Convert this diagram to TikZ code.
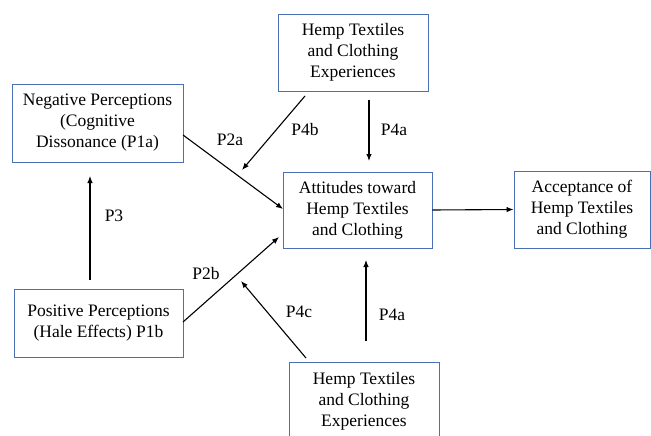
\documentclass[tikz,border=0pt]{standalone}
\usepackage{fontspec}
\usetikzlibrary{arrows.meta}
\newcommand\tmsfont{\fontspec{Liberation Serif}\fontsize{17.5}{21}\selectfont}
\begin{document}
\begin{tikzpicture}[x=1pt,y=-1pt,
  box/.style={draw=boxblue,line width=0.9pt,align=center,inner sep=0pt,
    font=\tmsfont,text=black},
  lab/.style={font=\tmsfont,inner sep=0pt},
  arr/.style={line width=1.1pt,-{Latex[length=7pt,width=5.5pt]}}]
\definecolor{boxblue}{HTML}{4A6FB5}
\useasboundingbox (0,0) rectangle (651,436);
\clip (0,0) rectangle (651,436);
% boxes
\node[box,minimum width=150pt,minimum height=77pt] (hemtop) at (353,52.5) {Hemp Textiles\\and Clothing\\Experiences};
\node[box,minimum width=171pt,minimum height=78pt] (neg) at (97.5,123) {Negative Perceptions\\(Cognitive\\Dissonance (P1a)};
\node[box,minimum width=149pt,minimum height=76pt] (att) at (357.5,210) {Attitudes toward\\Hemp Textiles\\and Clothing};
\node[box,minimum width=136pt,minimum height=77pt] (acc) at (582,209.5) {Acceptance of\\Hemp Textiles\\and Clothing};
\node[box,minimum width=169pt,minimum height=68pt] (pos) at (98.5,323) {Positive Perceptions\\(Hale Effects) P1b};
\node[box,minimum width=150pt,minimum height=78pt] (hembot) at (364,401) {Hemp Textiles\\and Clothing\\Experiences};
% connector end points
\coordinate (p3s) at (90,280);
\coordinate (p3e) at (90,176);
\coordinate (p2as) at (183,135);
\coordinate (p2ae) at (283,209);
\coordinate (p4bs) at (305,96);
\coordinate (p4be) at (242,170);
\coordinate (p4as) at (369,100);
\coordinate (p4ae) at (369,161);
\coordinate (p2bs) at (183,322);
\coordinate (p2be) at (279,237);
\coordinate (p4cs) at (306,358);
\coordinate (p4ce) at (241,281);
\coordinate (p4a2s) at (366,341);
\coordinate (p4a2e) at (366,260);
% connectors
\draw[arr] (p3s) -- (p3e);
\draw[arr] (p2as) -- (p2ae);
\draw[arr] (p4bs) -- (p4be);
\draw[arr] (p4as) -- (p4ae);
\draw[arr] (att.east) -- (acc.west);
\draw[arr] (p2bs) -- (p2be);
\draw[arr] (p4cs) -- (p4ce);
\draw[arr] (p4a2s) -- (p4a2e);
% labels
\node[lab] (l2a) at (230,140) {P2a};
\node[lab] (l4b) at (305,130) {P4b};
\node[lab] (l4a) at (394,130) {P4a};
\node[lab] (l3) at (114,216) {P3};
\node[lab] (l2b) at (206,274) {P2b};
\node[lab] (l4c) at (299,312) {P4c};
\node[lab] (l4a2) at (392,315) {P4a};
\end{tikzpicture}
\end{document}
